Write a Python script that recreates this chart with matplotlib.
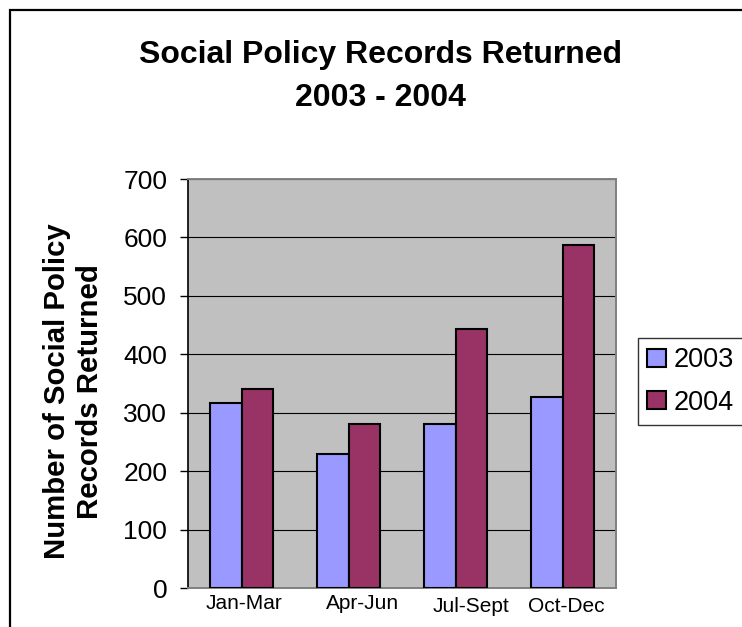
import numpy as np
import matplotlib
matplotlib.use("Agg")
import matplotlib.pyplot as plt
from matplotlib.patches import Rectangle
from matplotlib.transforms import ScaledTranslation

plt.rcParams['font.family'] = ['Liberation Sans', 'DejaVu Sans']

# datos
quarters = ['Jan-Mar', 'Apr-Jun', 'Jul-Sept', 'Oct-Dec']
years = ['2003', '2004']
recs_2003 = [317, 229, 280, 327]
recs_2004 = [341, 280, 444, 587]
yticks = [0, 100, 200, 300, 400, 500, 600, 700]

col_2003 = '#9999FF'
col_2004 = '#993366'

fig = plt.figure(figsize=(7.42, 6.27), dpi=100)
ax = fig.add_axes([0.2534, 0.0622, 0.5768, 0.6523])
ax.set_facecolor('#C0C0C0')

x = np.arange(len(quarters))
w = 0.29
b1 = ax.bar(x - w/2, recs_2003, w, color=col_2003, edgecolor='black', linewidth=1.5, label=years[0], zorder=3)
b2 = ax.bar(x + w/2, recs_2004, w, color=col_2004, edgecolor='black', linewidth=1.5, label=years[1], zorder=3)

ax.set_xlim(-0.5, len(quarters) - 0.5)
ax.set_ylim(0, 700)
ax.set_yticks(yticks)
ax.yaxis.grid(True, color='black', linewidth=0.8, zorder=1)
ax.set_axisbelow(True)
ax.tick_params(axis='y', labelsize=19, length=6, width=1, direction='out', pad=9)
ax.set_xticks(x)
ax.set_xticklabels(quarters, fontsize=15)
ax.tick_params(axis='x', length=0, pad=4)

# excel desplaza un poco las etiquetas del eje x
shifts = [(2.5, 0), (14, 0), (15.5, -3), (3.5, -3)]
for lbl, (dx, dy) in zip(ax.get_xticklabels(), shifts):
    lbl.set_transform(lbl.get_transform() + ScaledTranslation(dx/100, dy/100, fig.dpi_scale_trans))

ax.spines['left'].set_color('black')
ax.spines['left'].set_linewidth(1.2)
for s in ['top', 'right', 'bottom']:
    ax.spines[s].set_color('#808080')
    ax.spines[s].set_linewidth(1.4)

fig.text(0.513, 0.878, 'Social Policy Records Returned\n2003 - 2004', ha='center', va='center',
         fontsize=23, fontweight='bold', linespacing=1.57)
fig.text(0.099, 0.376, 'Number of Social Policy\nRecords Returned', ha='center', va='center',
         rotation=90, fontsize=21.2, fontweight='bold', linespacing=1.25)

leg = fig.legend(handles=[b1, b2], loc='upper left', bbox_to_anchor=(638/742, 1 - 338/627),
                 fontsize=19.5, frameon=True, fancybox=False, edgecolor='black',
                 handlelength=0.67, handleheight=0.67, handletextpad=0.3,
                 labelspacing=0.6, borderpad=0.35, borderaxespad=0)
leg.get_frame().set_linewidth(1.0)

# marco exterior del grafico
fig.patches.append(Rectangle((10/742, -0.1), 1.2, 1 - 10/627 + 0.1, transform=fig.transFigure,
                             fill=False, edgecolor='black', linewidth=1.6))

fig.savefig('out.png', dpi=100)
